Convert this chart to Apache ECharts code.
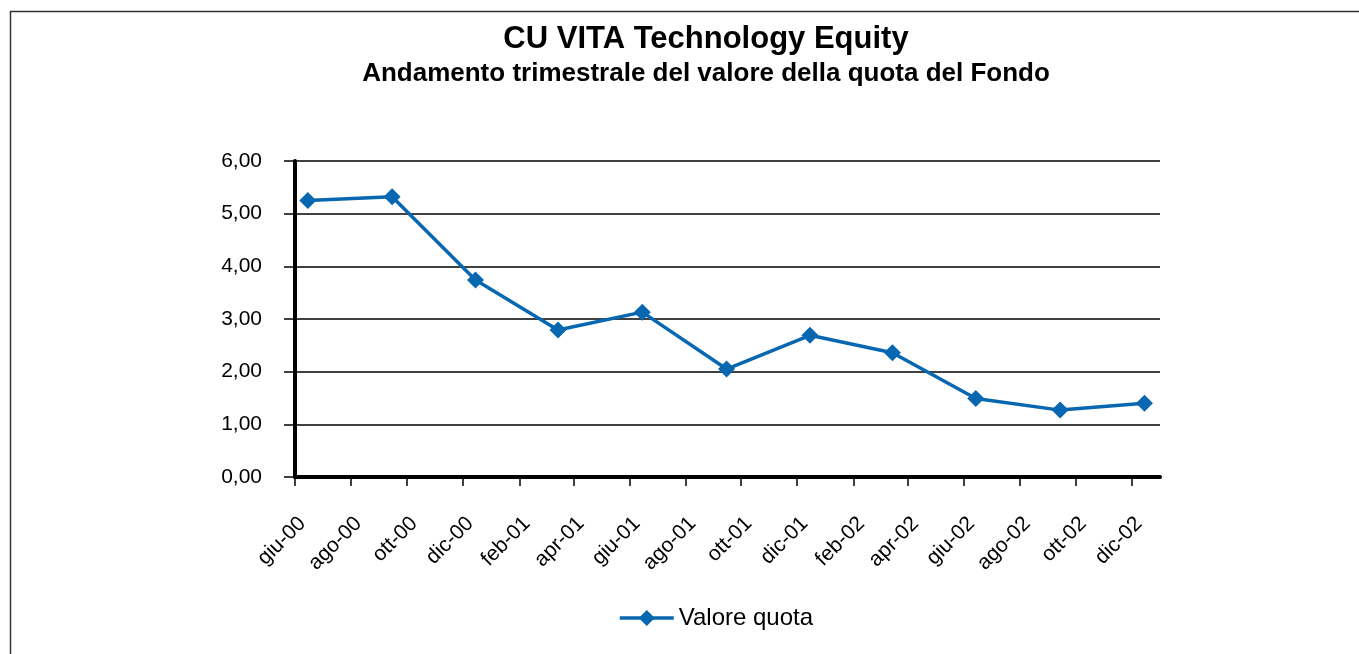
<!DOCTYPE html>
<html>
<head>
<meta charset="utf-8">
<script src="https://cdn.jsdelivr.net/npm/echarts@6/dist/echarts.min.js"></script>
<style>
  html, body { margin: 0; padding: 0; background: #fff; }
  #chart { width: 1359px; height: 654px; }
</style>
</head>
<body>
<div id="chart"></div>
<script>
(function() {
  // quarterly observations
  var obsDates = ['2000-06-15', '2000-09-15', '2000-12-15', '2001-03-15', '2001-06-15', '2001-09-15',
                  '2001-12-15', '2002-03-15', '2002-06-14', '2002-09-14', '2002-12-15'];
  var quota = [5.25, 5.32, 3.74, 2.79, 3.13, 2.05, 2.69, 2.36, 1.49, 1.27, 1.40];

  // axis ticks every two months
  var tickDates = ['2000-06-01', '2000-08-01', '2000-10-01', '2000-12-01', '2001-02-01', '2001-04-01',
                   '2001-06-01', '2001-08-01', '2001-10-01', '2001-12-01', '2002-02-01', '2002-04-01',
                   '2002-06-01', '2002-08-01', '2002-10-01', '2002-12-01'];
  var tickLabels = ['giu-00', 'ago-00', 'ott-00', 'dic-00', 'feb-01', 'apr-01', 'giu-01', 'ago-01',
                    'ott-01', 'dic-01', 'feb-02', 'apr-02', 'giu-02', 'ago-02', 'ott-02', 'dic-02'];
  var axisStart = '2000-06-01';
  var axisEnd = '2003-01-01';

  // days since axisStart
  function day(s) {
    var p = s.split('-');
    var a = axisStart.split('-');
    return Math.round((Date.UTC(+p[0], +p[1] - 1, +p[2]) - Date.UTC(+a[0], +a[1] - 1, +a[2])) / 86400000);
  }

  var tickDays = tickDates.map(day);
  var labelByDay = {};
  tickDays.forEach(function(d, i) { labelByDay[d] = tickLabels[i]; });
  var points = obsDates.map(function(d, i) { return [day(d), quota[i]]; });

  var blue = '#0767b1';
  var font = '"Liberation Sans", Arial, Helvetica, sans-serif';

  var chart = echarts.init(document.getElementById('chart'), null, { renderer: 'canvas' });
  chart.setOption({
    animation: false,
    backgroundColor: '#fff',
    textStyle: { fontFamily: font },
    graphic: [{
      type: 'rect',
      shape: { x: 10.5, y: 11.5, width: 1400, height: 700 },
      style: { fill: 'none', stroke: '#333', lineWidth: 1.5 },
      silent: true
    }],
    title: [{
      text: 'CU VITA Technology Equity',
      left: 706, top: 24, textAlign: 'center', padding: 0,
      textStyle: { fontFamily: font, fontSize: 31, fontWeight: 'bold', color: '#000' }
    }, {
      text: 'Andamento trimestrale del valore della quota del Fondo',
      left: 706, top: 61, textAlign: 'center', padding: 0,
      textStyle: { fontFamily: font, fontSize: 26, fontWeight: 'bold', color: '#000' }
    }],
    legend: {
      left: 618, top: 606, padding: 0,
      itemWidth: 54, itemHeight: 20, itemGap: 5,
      lineStyle: { width: 3.5 },
      textStyle: { fontFamily: font, fontSize: 24, color: '#000' },
      data: ['Valore quota']
    },
    grid: { left: 295, right: 199, top: 161, bottom: 177, containLabel: false },
    xAxis: {
      type: 'value',
      min: 0,
      max: day(axisEnd),
      axisLine: { show: true, onZero: false, lineStyle: { color: '#000', width: 4 } },
      axisTick: { show: true, customValues: tickDays, length: 9, lineStyle: { color: '#000', width: 1.5 } },
      axisLabel: {
        customValues: tickDays,
        rotate: 45,
        align: 'right', verticalAlign: 'top',
        fontSize: 21, color: '#000', fontFamily: font, margin: 36,
        formatter: function(v) { return labelByDay[Math.round(v)] || ''; }
      },
      splitLine: { show: false }
    },
    yAxis: {
      type: 'value',
      min: 0, max: 6, interval: 1,
      axisLine: { show: true, lineStyle: { color: '#000', width: 4 } },
      axisTick: { show: true, length: 11, lineStyle: { color: '#000', width: 1.5 } },
      axisLabel: {
        fontSize: 21, color: '#000', fontFamily: font, margin: 33,
        formatter: function(v) { return v.toFixed(2).replace('.', ','); }
      },
      splitLine: { show: true, lineStyle: { color: '#000', width: 1.5 } }
    },
    series: [{
      name: 'Valore quota',
      type: 'line',
      data: points,
      symbol: 'diamond',
      symbolSize: 17,
      lineStyle: { color: blue, width: 3.5 },
      itemStyle: { color: blue },
      z: 5
    }]
  });
  window.addEventListener('resize', function() { chart.resize(); });
})();
</script>
</body>
</html>
